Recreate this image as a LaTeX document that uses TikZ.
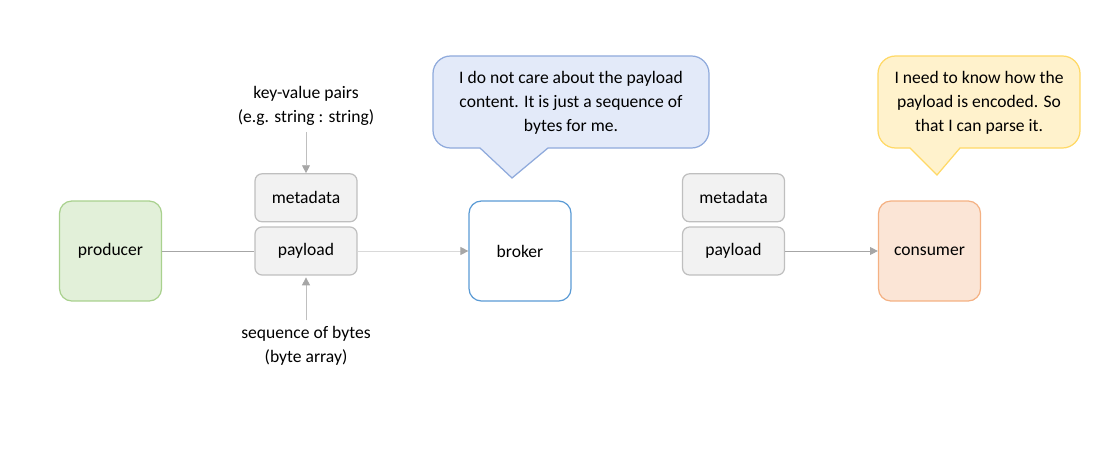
\documentclass[tikz,border=0pt]{standalone}
\usepackage{fontspec}
\setmainfont{Carlito}
\usepackage{tikz}
\usetikzlibrary{positioning,arrows.meta}

\definecolor{prodfill}{HTML}{E2F0D9}
\definecolor{proddraw}{HTML}{A9D18E}
\definecolor{brokdraw}{HTML}{5B9BD5}
\definecolor{consfill}{HTML}{FBE5D6}
\definecolor{consdraw}{HTML}{F4B183}
\definecolor{partfill}{HTML}{F2F2F2}
\definecolor{partdraw}{HTML}{BFBFBF}
\definecolor{bluefill}{HTML}{E3EAF9}
\definecolor{bluedraw}{HTML}{8FAADC}
\definecolor{yellfill}{HTML}{FFF2CC}
\definecolor{yelldraw}{HTML}{FFD966}
\definecolor{darkline}{HTML}{A6A6A6}
\definecolor{lightline}{HTML}{D9D9D9}

\tikzset{
  block/.style={draw, line width=0.7pt, rounded corners=7pt,
    minimum width=2.04cm, minimum height=2cm},
  part/.style={draw=partdraw, fill=partfill, line width=0.7pt,
    rounded corners=4pt, minimum width=2.04cm, minimum height=0.96cm},
  feed/.style={darkline, line width=0.5pt,
    -{Triangle[width=4.5pt,length=4.5pt,color=darkline]}},
  note/.style={align=center, font=\fontsize{10}{13.6}\selectfont},
}

\begin{document}
\begin{tikzpicture}[x=0.02cm, y=-0.02cm,
    font=\fontsize{10}{13.6}\selectfont]
    \useasboundingbox (0,0) rectangle (1118,466);

    % main flow
    \node[block, draw=proddraw, fill=prodfill] (producer) at (110.5,251) {producer};
    \node[part] (payload1) at (306,251) {payload};
    \node[part, above = 0.08cm of payload1] (meta1) {metadata};
    \node[block, draw=brokdraw, fill=white] (broker) at (520,251) {broker};
    \node[part] (payload2) at (733.5,251) {payload};
    \node[part, above = 0.08cm of payload2] (meta2) {metadata};
    \node[block, draw=consdraw, fill=consfill] (consumer) at (929.5,251) {consumer};

    \draw[darkline, line width=0.5pt] (producer) -- (payload1);
    \draw[feed, lightline] (payload1) -- (broker);
    \draw[lightline, line width=0.5pt] (broker) -- (payload2);
    \draw[feed] (payload2) -- (consumer);

    % labels
    \node[note] (keyval) at (306,106) {key-value pairs\\(e.g. string : string)};
    \node[note] (bytes) at (306,346) {sequence of bytes\\(byte array)};
    \draw[feed, partdraw] (keyval) -- (meta1);
    \draw[feed, partdraw, shorten >=1pt] (bytes) -- (payload1);

    % callouts
    \draw[bluedraw, fill=bluefill, line width=0.7pt]
        (480,148) [rounded corners=10pt] -- (433,148) -- (433,56)
        -- (709,56) -- (709,148) [sharp corners] -- (548,148)
        -- (512,178) -- cycle;
    \node[note] (brokernote) at (571,103)
        {I do not care about the payload\\content. It is just a sequence of\\bytes for me.};

    \draw[yelldraw, fill=yellfill, line width=0.7pt]
        (910,148) [rounded corners=10pt] -- (878,148) -- (878,56)
        -- (1080,56) -- (1080,148) [sharp corners] -- (960,148)
        -- (937,175) -- cycle;
    \node[note] (consnote) at (979,103)
        {I need to know how the\\payload is encoded. So\\that I can parse it.};
\end{tikzpicture}
\end{document}
